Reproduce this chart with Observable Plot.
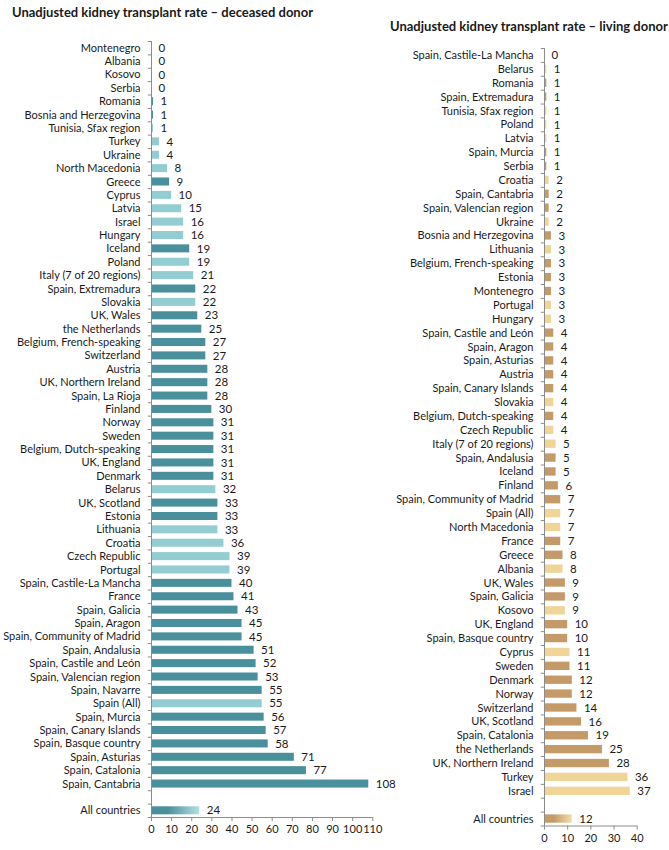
<!DOCTYPE html>
<html>
<head>
<meta charset="utf-8">
<script src="https://cdn.jsdelivr.net/npm/d3@7"></script>
<script src="https://cdn.jsdelivr.net/npm/@observablehq/plot@0.6"></script>
<style>
  html, body { margin: 0; padding: 0; background: #fff; }
  #wrap { position: relative; width: 669px; height: 850px; font-family: Lato, "Open Sans", sans-serif; color: #1a1a1a; }
  .title { position: absolute; font-weight: bold; font-size: 13px; line-height: 13px; white-space: nowrap; }
  .panel { position: absolute; top: 0; }
  .panel svg { overflow: visible; }
</style>
</head>
<body>
<div id="wrap">
  <div class="title" style="left:12px; top:6px;">Unadjusted kidney transplant rate – deceased donor</div>
  <div class="title" style="left:390px; top:20px;">Unadjusted kidney transplant rate – living donor</div>
  <div class="panel" id="left" style="left:0px;"></div>
  <div class="panel" id="right" style="left:380px;"></div>
</div>
<script>
// ---------- Deceased donor (top to bottom) ----------
const deceasedNames = ["Montenegro","Albania","Kosovo","Serbia","Romania","Bosnia and Herzegovina","Tunisia, Sfax region","Turkey","Ukraine","North Macedonia","Greece","Cyprus","Latvia","Israel","Hungary","Iceland","Poland","Italy (7 of 20 regions)","Spain, Extremadura","Slovakia","UK, Wales","the Netherlands","Belgium, French-speaking","Switzerland","Austria","UK, Northern Ireland","Spain, La Rioja","Finland","Norway","Sweden","Belgium, Dutch-speaking","UK, England","Denmark","Belarus","UK, Scotland","Estonia","Lithuania","Croatia","Czech Republic","Portugal","Spain, Castile-La Mancha","France","Spain, Galicia","Spain, Aragon","Spain, Community of Madrid","Spain, Andalusia","Spain, Castile and León","Spain, Valencian region","Spain, Navarre","Spain (All)","Spain, Murcia","Spain, Canary Islands","Spain, Basque country","Spain, Asturias","Spain, Catalonia","Spain, Cantabria"];
const deceasedValues = [0,0,0,0,1,1,1,4,4,8,9,10,15,16,16,19,19,21,22,22,23,25,27,27,28,28,28,30,31,31,31,31,31,32,33,33,33,36,39,39,40,41,43,45,45,51,52,53,55,55,56,57,58,71,77,108];
const deceasedGroups = ["individual","aggregated","aggregated","individual","individual","individual","aggregated","aggregated","aggregated","aggregated","individual","aggregated","aggregated","aggregated","aggregated","individual","aggregated","aggregated","individual","aggregated","individual","individual","individual","individual","individual","individual","individual","individual","individual","individual","individual","individual","individual","aggregated","individual","individual","aggregated","aggregated","aggregated","aggregated","individual","individual","individual","individual","individual","individual","individual","individual","individual","aggregated","individual","individual","individual","individual","individual","individual"];
const deceasedAllCountries = 24;
const deceasedTicks = [0,10,20,30,40,50,60,70,80,90,100,110];

// ---------- Living donor (top to bottom) ----------
const livingNames = ["Spain, Castile-La Mancha","Belarus","Romania","Spain, Extremadura","Tunisia, Sfax region","Poland","Latvia","Spain, Murcia","Serbia","Croatia","Spain, Cantabria","Spain, Valencian region","Ukraine","Bosnia and Herzegovina","Lithuania","Belgium, French-speaking","Estonia","Montenegro","Portugal","Hungary","Spain, Castile and León","Spain, Aragon","Spain, Asturias","Austria","Spain, Canary Islands","Slovakia","Belgium, Dutch-speaking","Czech Republic","Italy (7 of 20 regions)","Spain, Andalusia","Iceland","Finland","Spain, Community of Madrid","Spain (All)","North Macedonia","France","Greece","Albania","UK, Wales","Spain, Galicia","Kosovo","UK, England","Spain, Basque country","Cyprus","Sweden","Denmark","Norway","Switzerland","UK, Scotland","Spain, Catalonia","the Netherlands","UK, Northern Ireland","Turkey","Israel"];
const livingValues = [0,1,1,1,1,1,1,1,1,2,2,2,2,3,3,3,3,3,3,3,4,4,4,4,4,4,4,4,5,5,5,6,7,7,7,7,8,8,9,9,9,10,10,11,11,12,12,14,16,19,25,28,36,37];
const livingGroups = ["individual","aggregated","individual","individual","aggregated","aggregated","aggregated","individual","individual","aggregated","individual","individual","aggregated","individual","aggregated","individual","individual","individual","aggregated","aggregated","individual","individual","individual","individual","individual","aggregated","individual","aggregated","aggregated","individual","individual","individual","individual","aggregated","aggregated","individual","individual","aggregated","individual","individual","aggregated","individual","individual","aggregated","individual","individual","individual","individual","individual","individual","individual","individual","aggregated","aggregated"];
const livingAllCountries = 12;
const livingTicks = [0,10,20,30,40];

const allLabel = "All countries";

function panel(cfg) {
  const {names, values, groups, allValue, ticks, colors, gradColors, gradId,
         width, height, marginLeft, marginRight, marginTop, marginBottom, tickLen} = cfg;
  const n = names.length + 2;
  const allIdx = n - 1;
  const rows = names.map((name, i) => ({name, value: values[i], group: groups[i], i}));
  const allRow = {name: allLabel, value: allValue, i: allIdx};
  const labels = [...names, "", allLabel];
  const tickIdx = [...d3.range(names.length), allIdx];
  const xMax = ticks[ticks.length - 1];
  const axisColor = "#8c8c8c";
  const defs = () => {
    const g = d3.create("svg:defs");
    const lg = g.append("linearGradient").attr("id", gradId).attr("x1", "0").attr("x2", "1").attr("y1", "0").attr("y2", "0");
    lg.append("stop").attr("offset", "0").attr("stop-color", gradColors[0]);
    lg.append("stop").attr("offset", "0.35").attr("stop-color", gradColors[0]);
    lg.append("stop").attr("offset", "1").attr("stop-color", gradColors[1]);
    return g.node();
  };
  return Plot.plot({
    width, height, marginLeft, marginRight, marginTop, marginBottom,
    style: {fontFamily: "Lato, 'Open Sans', sans-serif", fontSize: "11px", color: "#1a1a1a", background: "transparent", overflow: "visible"},
    x: {domain: [0, xMax], label: null},
    y: {domain: [-0.5, n - 0.5], reverse: true, label: null},
    color: {domain: ["individual", "aggregated"], range: colors},
    marks: [
      defs,
      Plot.rectX(rows, {x1: 0, x2: "value", y1: d => d.i - 0.3, y2: d => d.i + 0.3, fill: "group"}),
      Plot.rectX([allRow], {x1: 0, x2: "value", y1: d => d.i - 0.3, y2: d => d.i + 0.3, fill: `url(#${gradId})`}),
      Plot.text([...rows, allRow], {x: "value", y: "i", text: d => `${d.value}`, textAnchor: "start", dx: 7, fill: "#1a1a1a", fontSize: 11.5}),
      Plot.ruleX([0], {y1: -0.5, y2: n - 0.5, stroke: axisColor}),
      Plot.ruleY(d3.range(n + 1).map(k => k - 0.5), {x1: 0, x2: -tickLen, stroke: axisColor}),
      Plot.ruleY([n - 0.5], {x1: 0, x2: xMax, stroke: axisColor}),
      Plot.axisX(ticks, {anchor: "bottom", label: null, tickSize: 4, tickPadding: 4, stroke: axisColor, fill: "#1a1a1a", fontSize: 11}),
      Plot.axisY(tickIdx, {anchor: "left", label: null, tickSize: 0, tickPadding: 11, tickFormat: i => labels[i], fill: "#1a1a1a", fontSize: 11})
    ]
  });
}

document.getElementById("left").append(panel({
  names: deceasedNames, values: deceasedValues, groups: deceasedGroups, allValue: deceasedAllCountries,
  ticks: deceasedTicks, colors: ["#4a8f9c", "#93cdd1"], gradColors: ["#4a8f9c", "#b5dfe1"], gradId: "gradDeceased",
  width: 380, height: 850, marginLeft: 151, marginRight: 7.7, marginTop: 41, marginBottom: 33, tickLen: 1.6
}));

document.getElementById("right").append(panel({
  names: livingNames, values: livingValues, groups: livingGroups, allValue: livingAllCountries,
  ticks: livingTicks, colors: ["#c49a69", "#f0d498"], gradColors: ["#c49a69", "#f5deac"], gradId: "gradLiving",
  width: 289, height: 850, marginLeft: 164, marginRight: 32.3, marginTop: 48, marginBottom: 24.5, tickLen: 1.4
}));
</script>
</body>
</html>
